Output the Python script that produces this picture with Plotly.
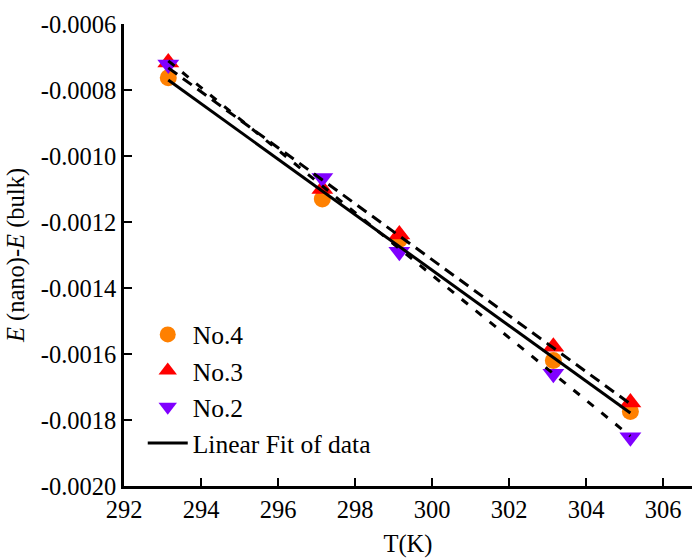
import numpy as np
import plotly.graph_objects as go

# Data
temperature = [293.15, 297.15, 299.15, 303.15, 305.15]
no4 = [-0.000763, -0.00113, -0.001253, -0.00162, -0.001774]
no3 = [-0.000717, -0.00110, -0.001238, -0.001578, -0.001747]
no2 = [-0.000723, -0.001067, -0.00129, -0.00166, -0.001852]

y_tickvals = [-0.0006, -0.0008, -0.0010, -0.0012, -0.0014, -0.0016, -0.0018, -0.0020]
y_ticktext = ["-0.0006", "-0.0008", "-0.0010", "-0.0012", "-0.0014", "-0.0016", "-0.0018", "-0.0020"]
x_tickvals = [292, 294, 296, 298, 300, 302, 304, 306]

FONT = "'Liberation Serif', 'Times New Roman', Tinos, serif"

def fit(x, y):
    k, b = np.polyfit(x, y, 1)
    xs = [min(x), max(x)]
    return xs, [k * v + b for v in xs]

fig = go.Figure()
fig.add_trace(go.Scatter(x=temperature, y=no4, mode="markers", name="No.4",
                         marker=dict(symbol="circle", size=17, color="#FF8000")))
fig.add_trace(go.Scatter(x=temperature, y=no3, mode="markers", name="No.3",
                         marker=dict(symbol="triangle-up", size=19, color="#FF0000")))
fig.add_trace(go.Scatter(x=temperature, y=no2, mode="markers", name="No.2",
                         marker=dict(symbol="triangle-down", size=19, color="#8000FF")))

fx, fy = fit(temperature, no4)
fig.add_trace(go.Scatter(x=fx, y=fy, mode="lines", name="Linear Fit of data",
                         line=dict(color="black", width=3)))
fx, fy = fit(temperature, no3)
fig.add_trace(go.Scatter(x=fx, y=fy, mode="lines", showlegend=False,
                         line=dict(color="black", width=3, dash="11px,7px")))
fx, fy = fit(temperature, no2)
fig.add_trace(go.Scatter(x=fx, y=fy, mode="lines", showlegend=False,
                         line=dict(color="black", width=3, dash="8px,10px")))

fig.update_layout(
    width=692, height=558,
    margin=dict(l=124, r=0, t=24, b=72),
    paper_bgcolor="white", plot_bgcolor="white",
    font=dict(family=FONT, size=24.5, color="black"),
    showlegend=True,
    legend=dict(x=0.033, y=0.378, xanchor="left", yanchor="top",
                bgcolor="rgba(0,0,0,0)", font=dict(family=FONT, size=25.5, color="black"),
                itemwidth=40),
    xaxis=dict(range=[292, 306.75], tickvals=x_tickvals, ticks="inside", ticklen=8,
               tickwidth=2, tickcolor="black", showline=True, linecolor="black",
               linewidth=2.5, showgrid=False, zeroline=False,
               title=dict(text="T(K)", standoff=14, font=dict(family=FONT, size=24.5)),
               tickfont=dict(family=FONT, size=24.5)),
    yaxis=dict(range=[-0.0020, -0.0006], tickvals=y_tickvals, ticktext=y_ticktext,
               ticks="inside", ticklen=8, tickwidth=2, tickcolor="black",
               showline=True, linecolor="black", linewidth=2.5, showgrid=False,
               zeroline=False,
               title=dict(text="<i>E</i> (nano)-<i>E</i> (bulk)", standoff=10,
                          font=dict(family=FONT, size=24.5)),
               tickfont=dict(family=FONT, size=24.5)),
)

fig.write_html("out.html", config={"displayModeBar": False},
               post_script="document.body.style.margin='0';")
